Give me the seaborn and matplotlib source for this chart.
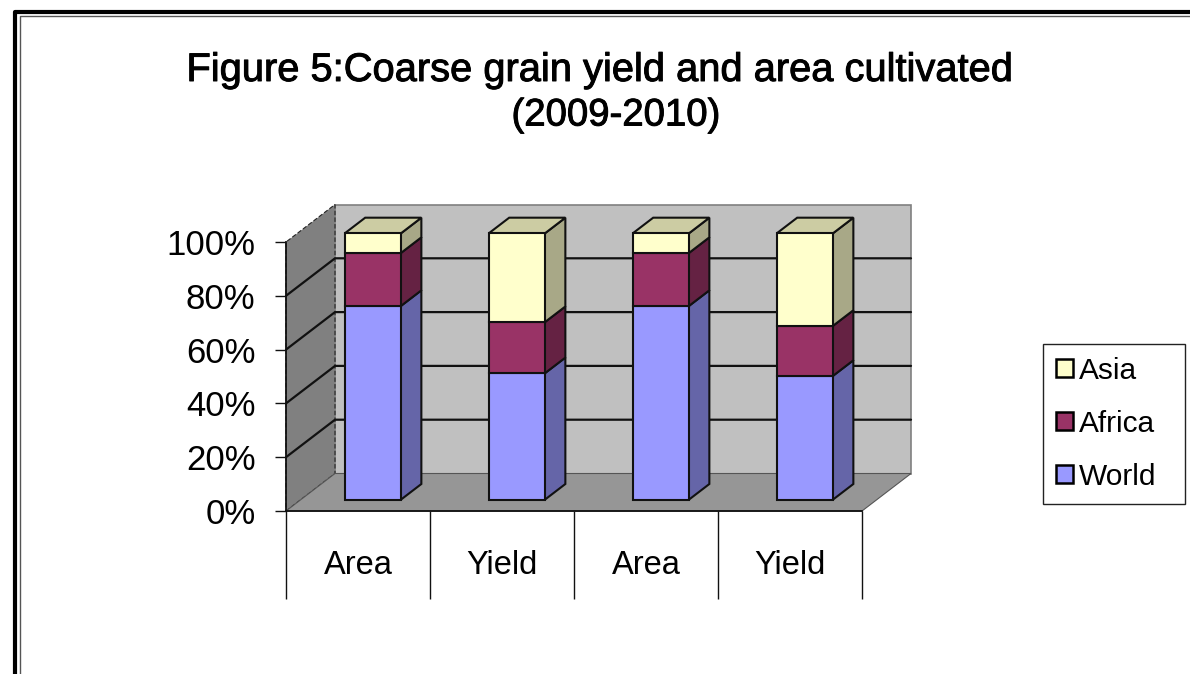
import matplotlib
matplotlib.use('Agg')
import matplotlib.pyplot as plt
import matplotlib.patheffects as pe
import seaborn as sns
import numpy as np
from matplotlib.lines import Line2D
from matplotlib.patches import Patch

categories = ['Area', 'Yield', 'Area', 'Yield']
world = [72, 47, 72, 46]
africa = [19.7, 19, 19.7, 18.6]
asia = [7.3, 33, 7.3, 34.4]
series_names = ['World', 'Africa', 'Asia']
series_colors = ['#9999FF', '#993366', '#FFFFCC']
y_ticks = [0, 20, 40, 60, 80, 100]

W, H = 1190, 674
# depth of the fake 3d box, in data units
DEPTH_X = 49 / 144
DEPTH_Y = 37.5 / 2.69
BAR_NEAR = 0.30
BAR_FAR = 0.72
BAR_WIDTH = 0.39


def project(x, y, depth):
    return x + depth * DEPTH_X, y + depth * DEPTH_Y


def shade(color, k):
    rgb = np.array(matplotlib.colors.to_rgb(color))
    return tuple(rgb * k)


def face(ax, points, color, zorder, **kws):
    xs = [p[0] for p in points]
    ys = [p[1] for p in points]
    ax.fill(xs, ys, facecolor=color, clip_on=False, zorder=zorder, **kws)


sns.set_style('white')
plt.rcParams['font.family'] = ['Liberation Sans', 'DejaVu Sans']
plt.rcParams['text.color'] = 'black'
plt.rcParams['xtick.labelcolor'] = 'black'
plt.rcParams['ytick.labelcolor'] = 'black'

fig = plt.figure(figsize=(W / 100, H / 100), dpi=100)
ax = fig.add_axes([286 / W, 1 - 511 / H, 576 / W, 269 / H])
ax.patch.set_alpha(0)

n = len(categories)

# walls and floor
face(ax, [project(0, 0, 1), project(n, 0, 1), project(n, 100, 1), project(0, 100, 1)],
     '#C0C0C0', 1, edgecolor='#808080', linewidth=1.2)
face(ax, [project(0, 0, 0), project(0, 0, 1), project(0, 100, 1), project(0, 100, 0)],
     '#808080', 1, edgecolor='#222222', linewidth=0.8, linestyle=(0, (4, 2)))
face(ax, [project(0, 0, 0), project(0, 0, 1), project(n, 0, 1), project(n, 0, 0)],
     '#969696', 1, edgecolor='#555555', linewidth=0.8)

# gridlines run along the side wall and the back wall
for v in y_ticks[1:-1]:
    x0, y0 = project(0, v, 0)
    x1, y1 = project(0, v, 1)
    x2, y2 = project(n, v, 1)
    ax.plot([x0, x1, x2], [y0, y1, y2], color='#111111', lw=1.6, clip_on=False, zorder=2)

positions = np.arange(n) + 0.5 + BAR_NEAR * DEPTH_X
base = BAR_NEAR * DEPTH_Y
bottom = np.zeros(n)
for values, color in zip([world, africa, asia], series_colors):
    values = np.array(values)
    sns.barplot(x=positions, y=values, bottom=bottom + base, native_scale=True, width=BAR_WIDTH,
                color=color, saturation=1, edgecolor='#111111', linewidth=1.5, errorbar=None,
                clip_on=False, zorder=5, ax=ax)
    # side face of each segment
    for i in range(n):
        right = i + 0.5 + BAR_WIDTH / 2
        face(ax, [project(right, bottom[i], BAR_NEAR), project(right, bottom[i], BAR_FAR),
                  project(right, bottom[i] + values[i], BAR_FAR), project(right, bottom[i] + values[i], BAR_NEAR)],
             shade(color, 0.66), 4, edgecolor='#111111', linewidth=1.5)
    bottom = bottom + values

# top face of the stack takes the colour of the last series
for i in range(n):
    left = i + 0.5 - BAR_WIDTH / 2
    right = i + 0.5 + BAR_WIDTH / 2
    face(ax, [project(left, bottom[i], BAR_NEAR), project(right, bottom[i], BAR_NEAR),
              project(right, bottom[i], BAR_FAR), project(left, bottom[i], BAR_FAR)],
         shade(series_colors[2], 0.8), 4, edgecolor='#111111', linewidth=1.5)

ax.set_xlim(0, n)
ax.set_ylim(0, 100)
ax.set_xlabel('')
ax.set_ylabel('')
ax.spines['top'].set_visible(False)
ax.spines['right'].set_visible(False)
for side in ['left', 'bottom']:
    ax.spines[side].set_color('#111111')
    ax.spines[side].set_linewidth(1.3)
    ax.spines[side].set_zorder(3)

ax.set_yticks(y_ticks)
ax.set_yticklabels([f'{v}%' for v in y_ticks])
ax.tick_params(axis='y', left=True, length=8, width=1, color='#111111', labelsize=25, pad=14)
# category separators are the major x ticks, labels sit on minor ticks
ax.set_xticks(np.arange(n + 1))
ax.set_xticklabels([])
ax.set_xticks(np.arange(n) + 0.5, categories, minor=True)
ax.tick_params(axis='x', which='major', bottom=True, length=63, width=1, color='#111111')
ax.tick_params(axis='x', which='minor', bottom=False, labelsize=23.5, pad=26)

handles = [Patch(facecolor=c, edgecolor='black', linewidth=1.8) for c in series_colors[::-1]]
leg = ax.legend(handles, series_names[::-1], loc='lower left', mode='expand',
                bbox_to_anchor=(1043 / W, 1 - 504 / H, 142 / W, 159 / H), bbox_transform=fig.transFigure,
                borderaxespad=0, fontsize=21.5, borderpad=0.45, labelspacing=0.83,
                handlelength=0.55, handleheight=0.55, handletextpad=0.2,
                fancybox=False, framealpha=1, edgecolor='#222222')
leg.get_frame().set_linewidth(1)

thick = [pe.withStroke(linewidth=0.7, foreground='black')]
fig.text(600.5 / W, 1 - 81 / H, 'Figure 5:Coarse grain yield and area cultivated', ha='center', va='baseline',
         fontsize=28.7, path_effects=thick)
fig.text(616 / W, 1 - 125.5 / H, '(2009-2010)', ha='center', va='baseline', fontsize=27.6, path_effects=thick)

# page border, top and left only reach the picture edges
fig.add_artist(Line2D([15 / W, 15 / W, 1], [0, 1 - 12 / H, 1 - 12 / H], color='black', lw=3))
fig.add_artist(Line2D([19.5 / W, 19.5 / W, 1], [0, 1 - 16 / H, 1 - 16 / H], color='#555555', lw=1))

fig.savefig('out.png', dpi=100)
